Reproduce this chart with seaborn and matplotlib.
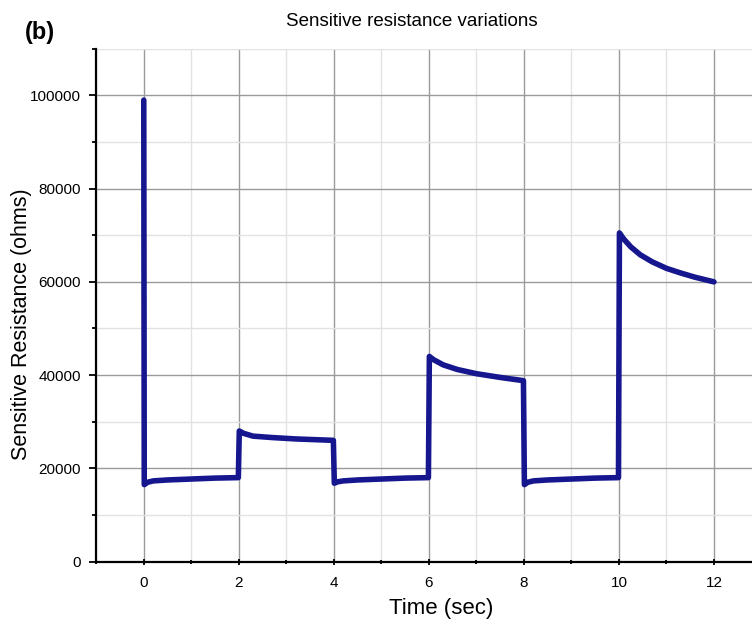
import matplotlib
matplotlib.use("Agg")
import matplotlib.pyplot as plt
import seaborn as sns
import pandas as pd
from matplotlib.ticker import MultipleLocator

time_sec = [0.0, 0.01, 0.08, 0.2, 0.5, 1.0, 1.5, 1.99,
            2.01, 2.1, 2.3, 2.7, 3.2, 3.99,
            4.01, 4.08, 4.2, 4.5, 5.0, 5.5, 5.99,
            6.01, 6.1, 6.3, 6.6, 7.0, 7.5, 7.99,
            8.01, 8.08, 8.2, 8.5, 9.0, 9.5, 9.99,
            10.01, 10.1, 10.25, 10.45, 10.7, 11.0, 11.3, 11.6, 12.0]
resistance = [99000, 16500, 17000, 17300, 17500, 17700, 17900, 18000,
              28000, 27500, 26900, 26600, 26300, 26000,
              16800, 17100, 17300, 17500, 17700, 17900, 18000,
              44000, 43300, 42200, 41200, 40300, 39500, 38800,
              16500, 17000, 17300, 17500, 17700, 17900, 18000,
              70500, 69200, 67500, 65800, 64300, 62900, 61900, 61000, 60000]

df = pd.DataFrame({"Time (sec)": time_sec, "Sensitive Resistance (ohms)": resistance})

sns.set_theme(style="white")
plt.rcParams["font.family"] = ["Liberation Sans", "DejaVu Sans"]
plt.rcParams["text.color"] = "black"
plt.rcParams["axes.labelcolor"] = "black"
plt.rcParams["xtick.color"] = "black"
plt.rcParams["ytick.color"] = "black"

fig = plt.figure(figsize=(7.52, 6.26), dpi=100)
ax = fig.add_axes([0.128, 0.103, 0.872, 0.819])

sns.lineplot(data=df, x="Time (sec)", y="Sensitive Resistance (ohms)", ax=ax,
             color="#16168f", linewidth=4.0, sort=False, estimator=None)

ax.set_xlim(-1, 12.8)
ax.set_ylim(0, 110000)
ax.xaxis.set_major_locator(MultipleLocator(2))
ax.xaxis.set_minor_locator(MultipleLocator(1))
ax.yaxis.set_major_locator(MultipleLocator(20000))
ax.yaxis.set_minor_locator(MultipleLocator(10000))

ax.grid(which="major", color="#9a9a9a", linewidth=1.0)
ax.grid(which="minor", color="#e2e2e2", linewidth=1.0)
ax.set_axisbelow(True)

for s in ["top", "right"]:
    ax.spines[s].set_visible(False)
for s in ["left", "bottom"]:
    ax.spines[s].set_color("black")
    ax.spines[s].set_linewidth(1.6)

ax.tick_params(axis="both", which="major", direction="out", length=5, width=1.3,
               color="black", labelcolor="black", labelsize=11, left=True, bottom=True)
ax.tick_params(axis="both", which="minor", direction="out", length=3, width=1.3,
               color="black", left=True, bottom=True)
ax.tick_params(axis="x", which="both", direction="inout")
ax.tick_params(axis="x", which="major", pad=8)
ax.tick_params(axis="y", which="major", pad=6)

ax.set_xlabel("Time (sec)", fontsize=16, color="black")
ax.xaxis.set_label_coords(0.526, -0.072)
ax.set_ylabel("Sensitive Resistance (ohms)", fontsize=15.5, color="black")
ax.yaxis.set_label_coords(-0.098, 0.462)

fig.text(0.548, 0.965, "Sensitive resistance variations", fontsize=13.5,
         ha="center", va="center", color="black")

fig.text(0.033, 0.948, "(b)", fontsize=17, fontweight="bold", ha="left", va="center",
         color="black")

fig.savefig("out.png", dpi=100)
